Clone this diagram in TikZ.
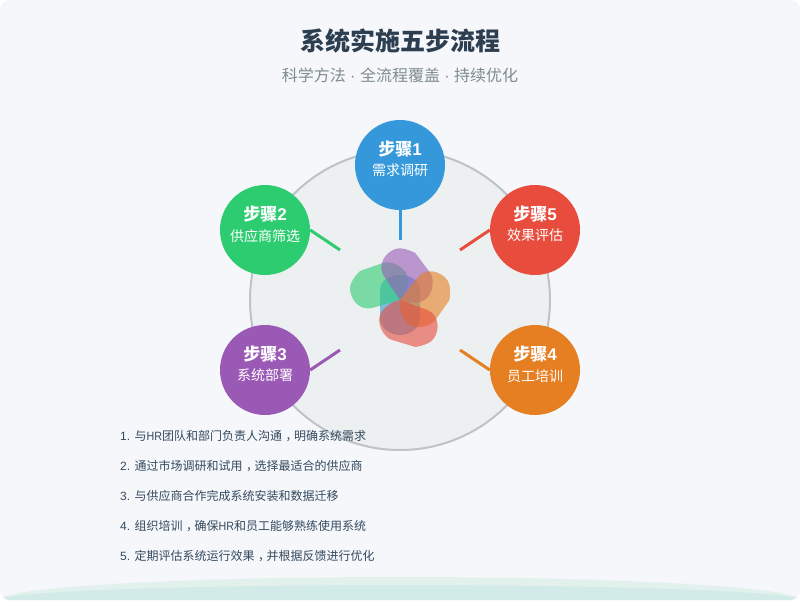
\documentclass[tikz,border=0pt]{standalone}
\usepackage{fontspec}
\setmainfont{Liberation Sans}
\newfontfamily\cjk{Noto Sans CJK SC}
\newfontfamily\narrowlat[FakeStretch=0.89]{Liberation Sans}
\definecolor{pagebg}{HTML}{F5F7FB}
\definecolor{wavea}{HTML}{E3F1EC}
\definecolor{waveb}{HTML}{D2EBE9}
\definecolor{ringfill}{HTML}{ECF0F1}
\definecolor{ringline}{HTML}{BDC3C7}
\definecolor{titlecol}{HTML}{2C3E50}
\definecolor{subcol}{HTML}{7F8C8D}
\definecolor{listcol}{HTML}{34495E}
\definecolor{stepblue}{HTML}{3498DB}
\definecolor{stepgreen}{HTML}{2ECC71}
\definecolor{steppurple}{HTML}{9B59B6}
\definecolor{steporange}{HTML}{E67E22}
\definecolor{stepred}{HTML}{E74C3C}
\newcommand{\fs}[1]{\fontsize{#1}{#1}\selectfont}
\newcommand{\zcomma}{\kern3.5pt，\kern-3.5pt}
\newcommand{\hr}{{\narrowlat HR}}
\tikzset{
 stepnode/.style={circle,minimum size=90pt,inner sep=0pt,text=white,align=center},
 linknode/.style={line width=3pt},
 itemnode/.style={anchor=west,inner sep=0pt,text=listcol,font=\fs{12}},
 petal/.style={fill opacity=0.6,shift={(ctr)}}
}
\begin{document}
\begin{tikzpicture}[x=1pt,y=-1pt]
 \useasboundingbox (0,0) rectangle (800,600);
 % page and the two waves at the foot
 \begin{scope}
 \clip[rounded corners=10pt] (0,0) rectangle (800,600);
 \fill[pagebg] (0,0) rectangle (800,600);
 \fill[wavea] (400,600) ellipse [x radius=400pt,y radius=23pt];
 \fill[waveb] (400,600) ellipse [x radius=400pt,y radius=15pt];
 \end{scope}
 \node (title) at (400,41) {\cjk\fs{25}\bfseries\textcolor{titlecol}{系统实施五步流程}};
 \node (subtitle) at (400,75) {\fs{16}\textcolor{subcol}{{\cjk 科学方法} · {\cjk 全流程覆盖} · {\cjk 持续优化}}};
 \coordinate (ctr) at (400,300);
 \filldraw[fill=ringfill,draw=ringline,line width=2pt] (ctr) circle (150pt);
 % petals
 \fill[stepblue,petal] (-20,-10) .. controls (-20,-20) and (-10,-25) .. (0,-25)
 .. controls (10,-25) and (20,-20) .. (20,-10) -- (20,18)
 .. controls (20,28) and (10,35) .. (0,35) .. controls (-10,35) and (-20,28) .. (-20,18) -- cycle;
 \foreach \k/\col in {0/stepgreen,1/steppurple,2/steporange,3/stepred}
 \fill[\col,petal,rotate=-72*\k] (0,0) -- (-28,8) .. controls (-40,11) and (-50,0) .. (-50,-12)
 .. controls (-50,-18) and (-44,-25) .. (-40,-29) -- (-17,-37)
 .. controls (-10,-40) and (8,-33) .. (8,-20) .. controls (8,-12) and (4,-4) .. (0,0) -- cycle;
 % free ends of the spokes
 \coordinate (end1) at (400,240);
 \coordinate (end2) at (340,250);
 \coordinate (end3) at (340,350);
 \coordinate (end4) at (460,350);
 \coordinate (end5) at (460,250);
 % steps
 \foreach \i/\x/\y/\col/\txt in {1/400/165/stepblue/需求调研,2/265/230/stepgreen/供应商筛选,3/265/370/steppurple/系统部署,4/535/370/steporange/员工培训,5/535/230/stepred/效果评估}
 \node[stepnode,fill=\col] (step\i) at (\x,\y) {{\cjk\fs{17}\bfseries 步骤}{\fs{17}\bfseries\i}\\[6pt]{\cjk\fs{14}\txt}\\[1pt]\mbox{}};
 \draw[linknode,stepblue] (step1.south) -- (end1);
 \draw[linknode,stepgreen] (step2.east) -- (end2);
 \draw[linknode,steppurple] (step3.east) -- (end3);
 \draw[linknode,steporange] (step4.west) -- (end4);
 \draw[linknode,stepred] (step5.west) -- (end5);
 % list
 \node[itemnode] (item1) at (120,436) {1. {\cjk 与}\hr{\cjk 团队和部门负责人沟通\zcomma 明确系统需求}};
 \node[itemnode] (item2) at (120,466) {2. {\cjk 通过市场调研和试用\zcomma 选择最适合的供应商}};
 \node[itemnode] (item3) at (120,496) {3. {\cjk 与供应商合作完成系统安装和数据迁移}};
 \node[itemnode] (item4) at (120,526) {4. {\cjk 组织培训\zcomma 确保}\hr{\cjk 和员工能够熟练使用系统}};
 \node[itemnode] (item5) at (120,556) {5. {\cjk 定期评估系统运行效果\zcomma 并根据反馈进行优化}};
\end{tikzpicture}
\end{document}
